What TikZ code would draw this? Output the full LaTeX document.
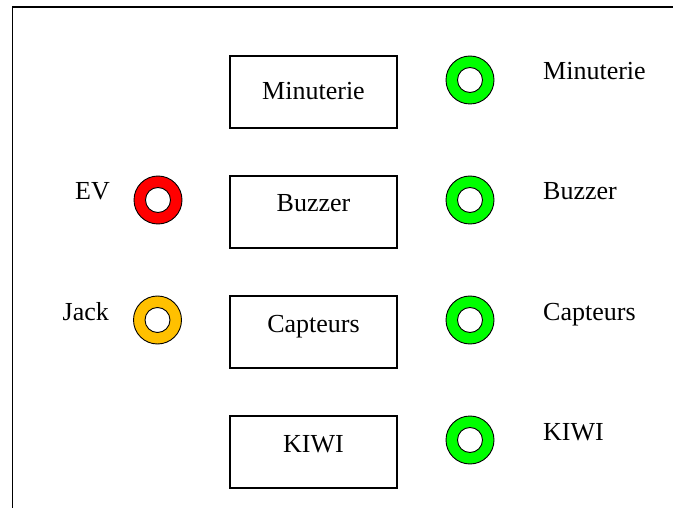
\documentclass[tikz,border=0pt]{standalone}
\usepackage{fontspec}
\setmainfont{Liberation Serif}
\definecolor{ledgreen}{RGB}{0,255,0}
\definecolor{ledred}{RGB}{255,0,0}
\definecolor{ledamber}{RGB}{255,192,0}
\begin{document}
\begin{tikzpicture}[x=1pt,y=-1pt,
  font=\fontsize{26}{30}\selectfont,
  panel/.style={line width=1.6pt},
  modbox/.style={draw, line width=1.3pt, rectangle, minimum width=167pt,
    minimum height=72pt, inner sep=0pt, text height=12pt, text depth=12pt},
  ring/.style={circle, draw, line width=0.9pt, fill=#1, minimum size=48pt,
    inner sep=0pt,
    path picture={\draw[line width=0.9pt, fill=white]
      (path picture bounding box.center) circle[radius=12.5pt];}},
  tag/.style={anchor=base west, inner sep=0pt}]
  \useasboundingbox (0,0) rectangle (673,508);

  % panel frame (open at the bottom)
  \coordinate (fb) at (12.5,508);
  \coordinate (fc) at (12.5,7);
  \coordinate (fr) at (673,7);
  \draw[panel] (fb) -- (fc) -- (fr);

  % module boxes
  \node[modbox, text height=19pt, text depth=4.4pt] (mMin) at (313.5,92) {Minuterie};
  \node[modbox] (mBuz) at (313.5,212) {Buzzer};
  \node[modbox] (mCap) at (313.5,332) {Capteurs};
  \node[modbox] (mKiwi) at (313.5,452) {KIWI};

  % status lamps, right column
  \node[ring=ledgreen] (lMin) at (470,80) {};
  \node[ring=ledgreen] (lBuz) at (470,200) {};
  \node[ring=ledgreen] (lCap) at (470,320) {};
  \node[ring=ledgreen] (lKiwi) at (470,440) {};

  % lamps, left column
  \node[ring=ledred] (lEV) at (158,200) {};
  \node[ring=ledamber] (lJack) at (157.5,320) {};

  % lamp captions
  \node[tag] (tMin) at (543,80) {Minuterie};
  \node[tag] (tBuz) at (543,200) {Buzzer};
  \node[tag] (tCap) at (543,320) {Capteurs};
  \node[tag] (tKiwi) at (543,440) {KIWI};
  \node[tag] (tEV) at (75,200) {EV};
  \node[tag] (tJack) at (62.5,320.5) {Jack};
\end{tikzpicture}
\end{document}
